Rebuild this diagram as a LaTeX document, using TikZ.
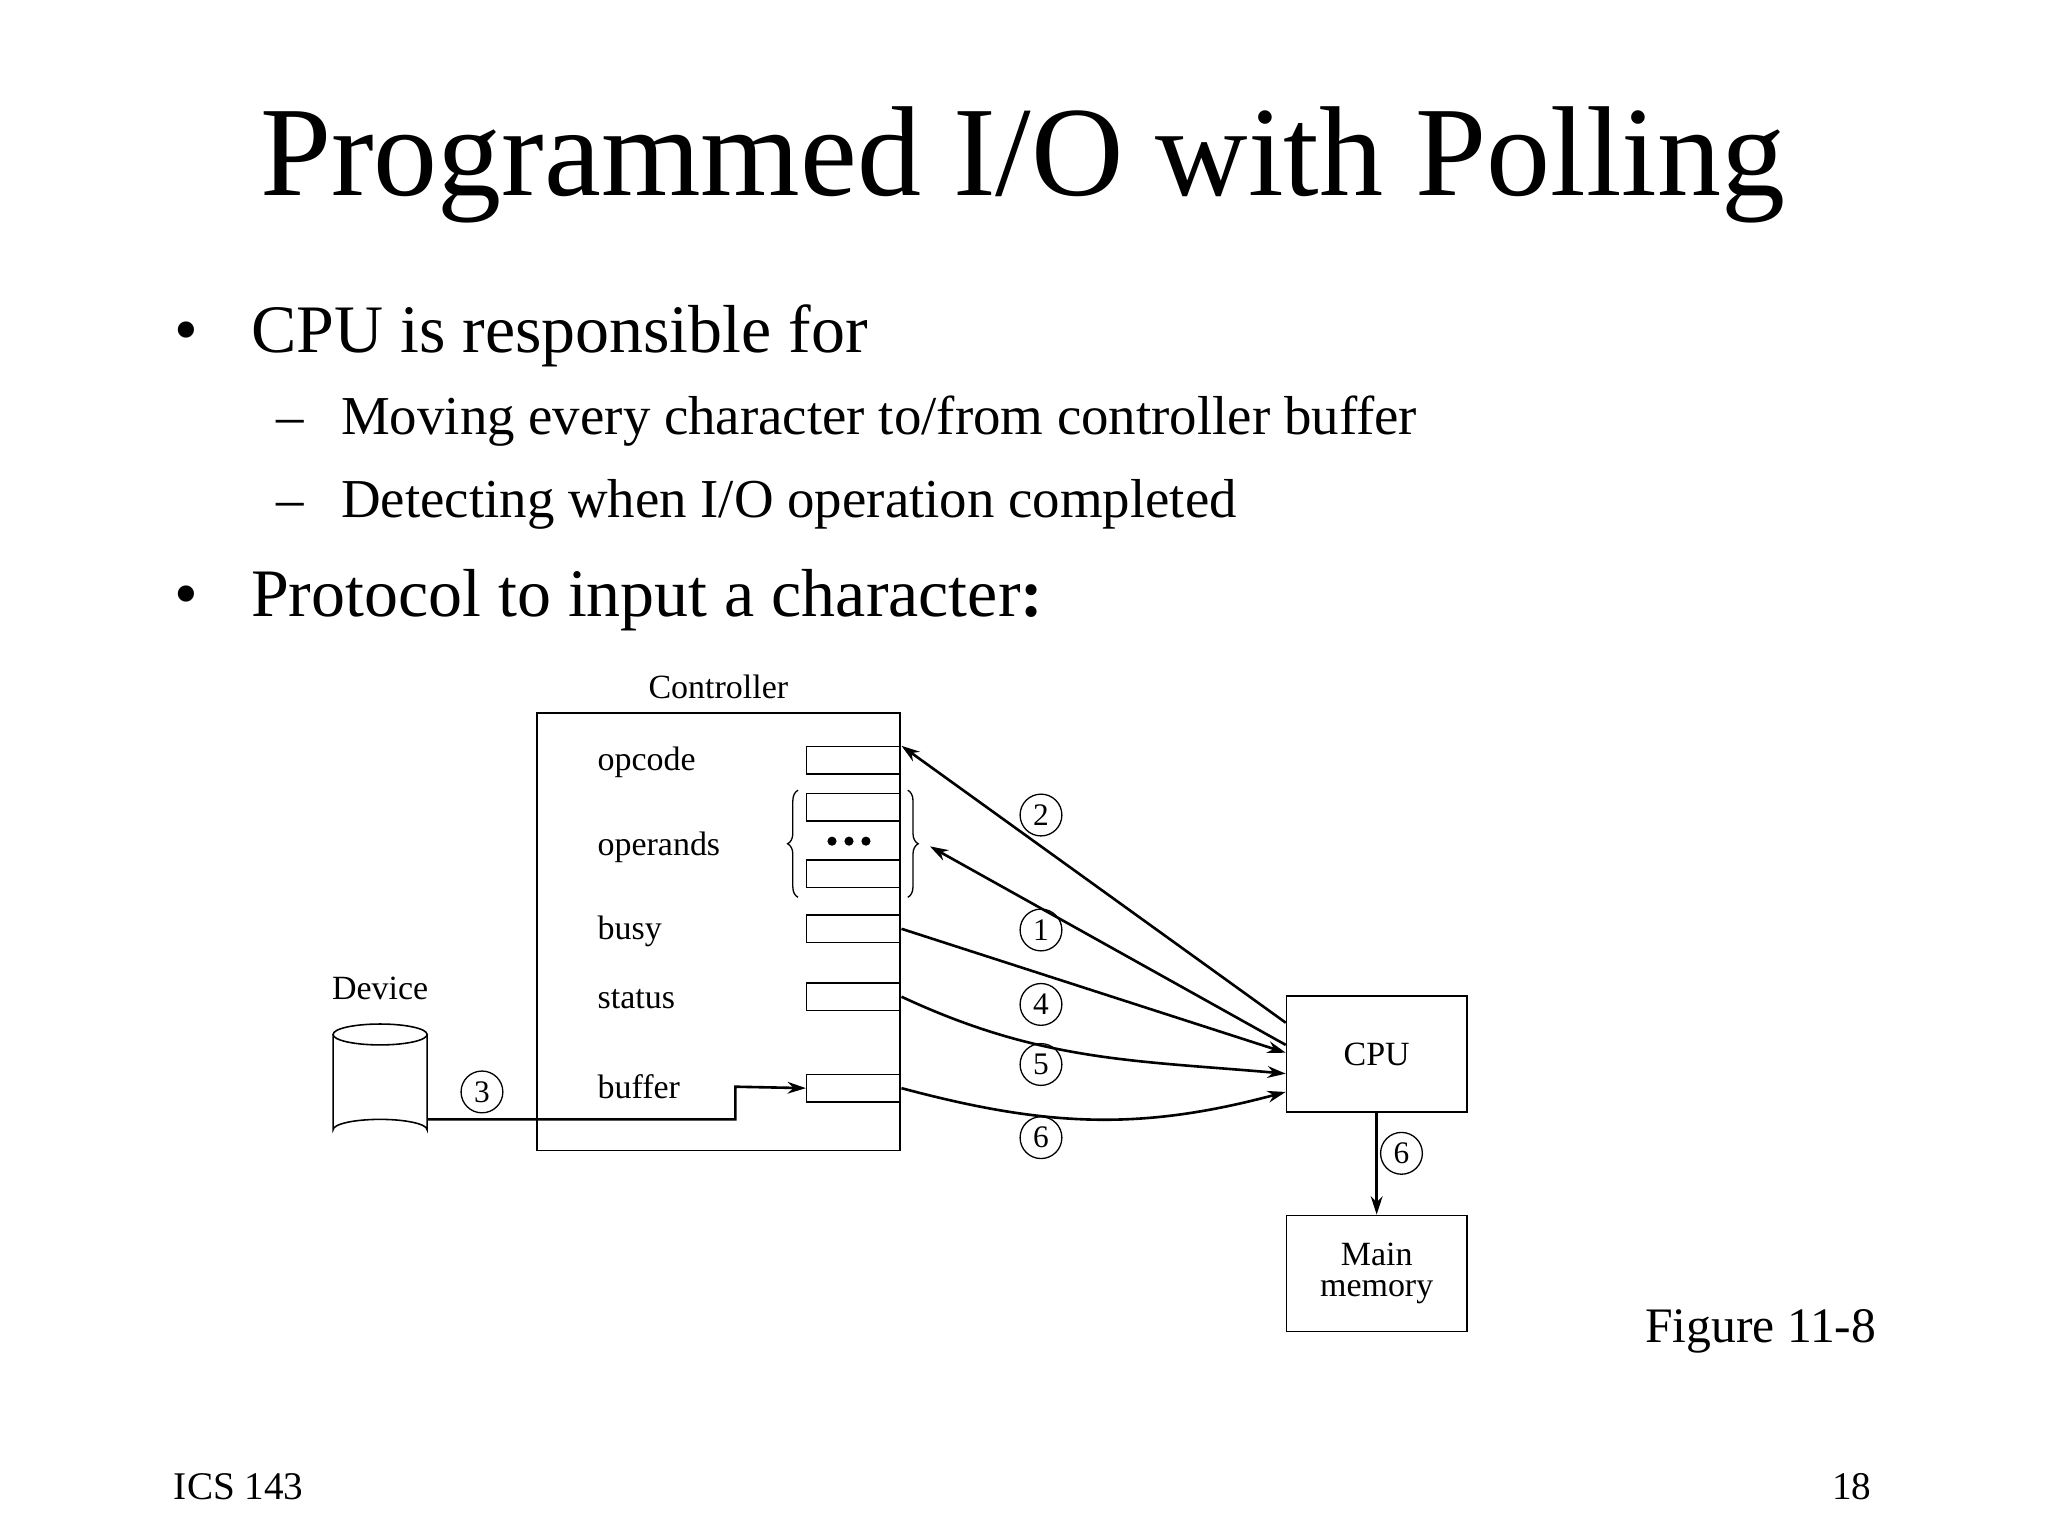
\documentclass[tikz,border=0pt]{standalone}
\usepackage{fontspec}
\setmainfont{Liberation Serif}
\usetikzlibrary{arrows.meta,decorations.pathreplacing}
\begin{document}
\begin{tikzpicture}[x=1pt,y=-1pt,
 reg/.style={draw,minimum width=72pt,minimum height=21pt,inner sep=0pt,anchor=north west,line width=1.2pt},
 box/.style={draw,line width=1.2pt,inner sep=0pt},
 lab/.style={font=\fontsize{26}{28}\selectfont,anchor=base west},
 num/.style={draw,circle,minimum size=32pt,inner sep=0pt,font=\fontsize{24}{24}\selectfont,line width=1pt},
 arr/.style={line width=2pt,-{Stealth[length=14pt,width=9pt]}},
 brc/.style={line width=1pt,decoration={brace,amplitude=8pt},decorate}]
\useasboundingbox (0,0) rectangle (1568,1176);
\node[anchor=base] (title) at (783,150) {\fontsize{98}{100}\selectfont Programmed I/O with Polling};
\node[anchor=base] (b1) at (143,270) {\fontsize{52}{56}\selectfont •};
\node[anchor=base west,inner sep=0pt] (t1) at (192,270) {\fontsize{52}{56}\selectfont CPU is responsible for};
\node[anchor=base] (d1) at (222,333) {\fontsize{42}{46}\selectfont –};
\node[anchor=base west,inner sep=0pt] (s1) at (261,333) {\fontsize{42}{46}\selectfont Moving every character to/from controller buffer};
\node[anchor=base] (d2) at (222,396) {\fontsize{42}{46}\selectfont –};
\node[anchor=base west,inner sep=0pt] (s2) at (261,396) {\fontsize{42}{46}\selectfont Detecting when I/O operation completed};
\node[anchor=base] (b2) at (143,472) {\fontsize{52}{56}\selectfont •};
\node[anchor=base west,inner sep=0pt] (t2) at (192,472) {\fontsize{52}{56}\selectfont Protocol to input a character\textbf{:}};
% controller
\draw[line width=1.2pt] (411,546) rectangle (689,881);
\node[anchor=base] (ctl) at (550,535) {\fontsize{26}{28}\selectfont Controller};
\node[reg] (opc) at (617,571) {};
\node[reg] (op1) at (617,607) {};
\node[reg] (op2) at (617,658) {};
\node[reg] (busy) at (617,700) {};
\node[reg] (stat) at (617,752) {};
\node[reg] (buf) at (617,822) {};
\node[lab] at (454,590) {opcode};
\node[lab] at (454,655) {operands};
\node[lab] at (454,719) {busy};
\node[lab] at (454,772) {status};
\node[lab] at (454,841) {buffer};
\foreach \x in {637,650,663} \fill (\x,644) circle (3.5pt);
\draw[brc] (611,687) -- (611,605);
\draw[brc] (695,605) -- (695,687);
\coordinate (brt) at (712,648);
% device
\node[anchor=base] (dev) at (291,765) {\fontsize{26}{28}\selectfont Device};
\draw[line width=1.2pt,fill=white] (255,792) -- (255,865) arc[start angle=180,end angle=360,x radius=36,y radius=8] -- (327,792);
\draw[line width=1.2pt] (291,792) ellipse[x radius=36,y radius=8];
\coordinate (devo) at (327,857);
\draw[arr] (devo) -- (563,857) -- (563,832) -- (buf.west);
\node[num,fill=white] at (369,836) {3};
% cpu, memory
\node[box,minimum width=138pt,minimum height=89pt,font=\fontsize{26}{28}\selectfont] (cpu) at (1054,807) {CPU};
\node[box,minimum width=138pt,minimum height=89pt,font=\fontsize{26}{28}\selectfont,align=center] (mem) at (1054,975) {Main\\[-4pt]memory};
\draw[arr] (cpu) -- (mem);
\node[num] at (1073,883) {6};
\draw[arr] (cpu.north west|-0,783) -- (opc.north east);
\draw[arr] (cpu.north west|-0,800) -- (brt);
\draw[arr] (busy.east) -- (cpu.north west|-0,806);
\draw[arr] (stat.east) to[out=-25,in=175] (cpu.north west|-0,822);
\draw[arr] (buf.east) to[out=-15,in=195] (cpu.north west|-0,836);
\node[num] at (797,624) {2};
\node[num] at (797,712) {1};
\node[num] at (797,769) {4};
\node[num] at (797,815) {5};
\node[num] at (797,871) {6};
\node[anchor=base east] (fig) at (1440,1028) {\fontsize{38}{40}\selectfont Figure 11-8};
\node[anchor=base west,inner sep=0pt] (ics) at (133,1148) {\fontsize{30}{32}\selectfont ICS 143};
\node[anchor=base east,inner sep=0pt] (pg) at (1433,1148) {\fontsize{30}{32}\selectfont 18};
\end{tikzpicture}
\end{document}
